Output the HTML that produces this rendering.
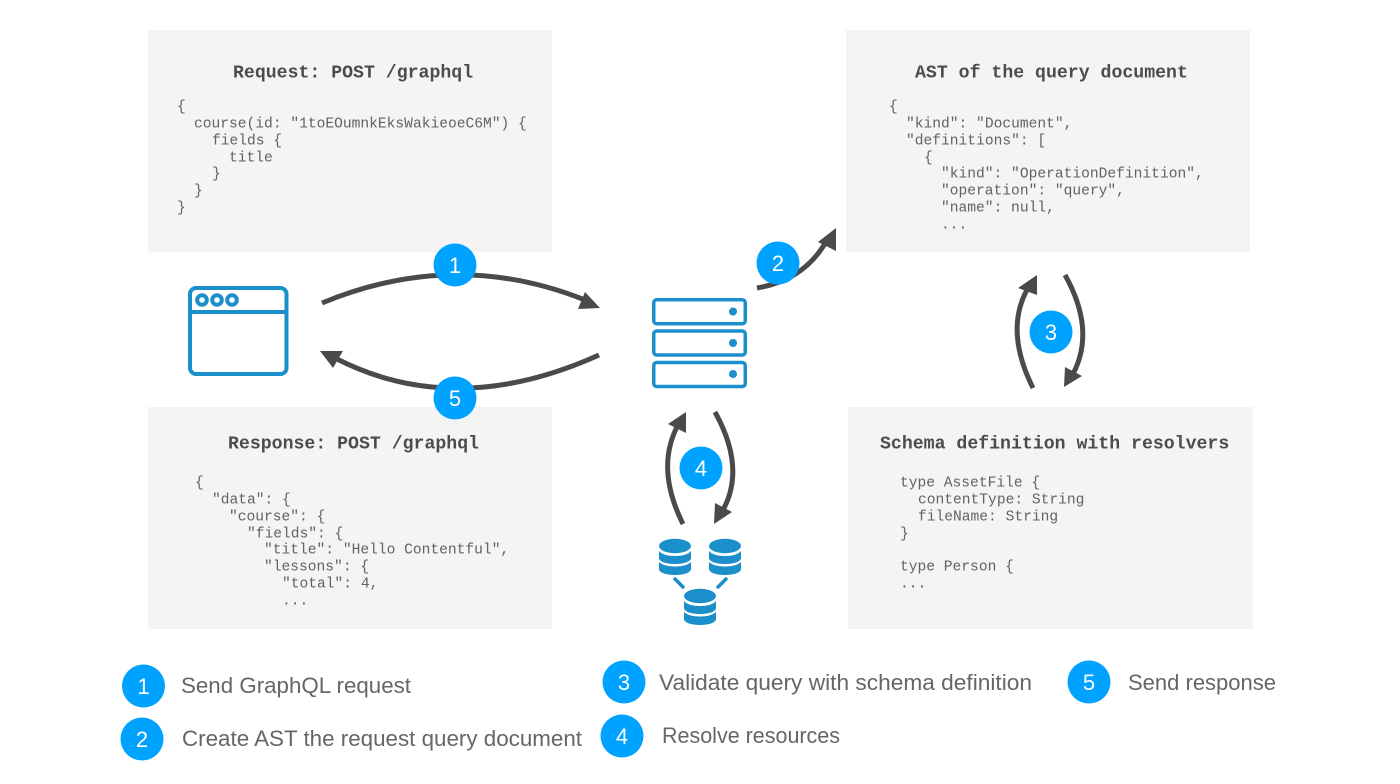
<!DOCTYPE html>
<html>
<head>
<meta charset="utf-8">
<style>
html,body{margin:0;padding:0;background:#fff;width:1400px;height:784px;overflow:hidden}
svg{display:block}
.c{font-family:"Liberation Mono",monospace;font-size:14.6px;fill:#626262}
.t{font-family:"Liberation Mono",monospace;font-size:18.2px;font-weight:bold;fill:#4c4c4c}
.l{font-family:"Liberation Sans",sans-serif;font-size:22px;fill:#666}
.n{font-family:"Liberation Sans",sans-serif;font-size:22px;fill:#fff;text-anchor:middle}
.a{fill:none;stroke:#4a4a4a;stroke-width:5}
.h{fill:#4a4a4a}
.b{fill:#00a2ff}
.i{fill:none;stroke:#1b8fca;stroke-width:3.5}
.w{fill:none;stroke:#1b8fca;stroke-width:4}
.d{fill:#1b8fca}
</style>
</head>
<body>
<svg width="1400" height="784" viewBox="0 0 1400 784" xmlns="http://www.w3.org/2000/svg">
<rect width="1400" height="784" fill="#fff"/>
<rect x="148" y="30" width="404" height="222" fill="#f4f4f4"/>
<rect x="846" y="30" width="404" height="222" fill="#f4f4f4"/>
<rect x="148" y="407" width="404" height="222" fill="#f4f4f4"/>
<rect x="848" y="407" width="405" height="222" fill="#f4f4f4"/>

<g transform="translate(0,-0.7)">
<text class="t" x="233" y="78">Request: POST /graphql</text>
<text class="c" x="177" y="111">{</text>
<text class="c" x="194" y="128">course(id: "1toEOumnkEksWakieoeC6M") {</text>
<text class="c" x="212" y="145">fields {</text>
<text class="c" x="229" y="162">title</text>
<text class="c" x="212" y="178">}</text>
<text class="c" x="194" y="195">}</text>
<text class="c" x="177" y="212">}</text>

<text class="t" x="915" y="78">AST of the query document</text>
<text class="c" x="889" y="111">{</text>
<text class="c" x="906" y="128">"kind": "Document",</text>
<text class="c" x="906" y="145">"definitions": [</text>
<text class="c" x="924" y="162">{</text>
<text class="c" x="941" y="178">"kind": "OperationDefinition",</text>
<text class="c" x="941" y="195">"operation": "query",</text>
<text class="c" x="941" y="212">"name": null,</text>
<text class="c" x="941" y="229">...</text>

<text class="t" x="228" y="449">Response: POST /graphql</text>
<text class="c" x="195" y="487">{</text>
<text class="c" x="212" y="504">"data": {</text>
<text class="c" x="229" y="521">"course": {</text>
<text class="c" x="247" y="538">"fields": {</text>
<text class="c" x="264" y="554">"title": "Hello Contentful",</text>
<text class="c" x="264" y="571">"lessons": {</text>
<text class="c" x="282" y="588">"total": 4,</text>
<text class="c" x="282" y="605">...</text>

<text class="t" x="880" y="449">Schema definition with resolvers</text>
<text class="c" x="900" y="487">type AssetFile {</text>
<text class="c" x="918" y="504">contentType: String</text>
<text class="c" x="918" y="521">fileName: String</text>
<text class="c" x="900" y="538">}</text>
<text class="c" x="900" y="571">type Person {</text>
<text class="c" x="900" y="588">...</text>
</g>

<!-- browser -->
<rect class="w" x="190" y="288" width="96.5" height="86" rx="6"/>
<line class="w" x1="190" y1="312" x2="286" y2="312"/>
<circle class="w" cx="202" cy="300" r="4.8"/>
<circle class="w" cx="217" cy="300" r="4.8"/>
<circle class="w" cx="232" cy="300" r="4.8"/>

<!-- server -->
<rect class="i" x="653.75" y="299.75" width="91.5" height="24" rx="3"/>
<rect class="i" x="653.75" y="331" width="91.5" height="24" rx="3"/>
<rect class="i" x="653.75" y="362.5" width="91.5" height="24" rx="3"/>
<circle class="d" cx="733" cy="311.5" r="4"/>
<circle class="d" cx="733" cy="343" r="4"/>
<circle class="d" cx="733" cy="374" r="4"/>

<!-- databases -->
<g>
<ellipse class="d" cx="675" cy="546" rx="16" ry="7.2"/>
<path class="d" d="M659 551c3 3.500 9 5 16 5s13-1.500 16-5v7c0 3.500-7 6-16 6s-16-2.500-16-6z"/>
<path class="d" d="M659 562c3 3 9 4.500 16 4.500s13-1.500 16-4.500v7c0 3.500-7 6-16 6s-16-2.500-16-6z"/>
</g>
<g transform="translate(50,0)">
<ellipse class="d" cx="675" cy="546" rx="16" ry="7.2"/>
<path class="d" d="M659 551c3 3.500 9 5 16 5s13-1.500 16-5v7c0 3.500-7 6-16 6s-16-2.500-16-6z"/>
<path class="d" d="M659 562c3 3 9 4.500 16 4.500s13-1.500 16-4.500v7c0 3.500-7 6-16 6s-16-2.500-16-6z"/>
</g>
<g transform="translate(25,50)">
<ellipse class="d" cx="675" cy="546" rx="16" ry="7.2"/>
<path class="d" d="M659 551c3 3.500 9 5 16 5s13-1.500 16-5v7c0 3.500-7 6-16 6s-16-2.500-16-6z"/>
<path class="d" d="M659 562c3 3 9 4.500 16 4.500s13-1.500 16-4.500v7c0 3.500-7 6-16 6s-16-2.500-16-6z"/>
</g>
<line x1="675" y1="579" x2="683" y2="587" stroke="#1b8fca" stroke-width="3.5" stroke-linecap="round"/>
<line x1="726" y1="579" x2="718" y2="587" stroke="#1b8fca" stroke-width="3.5" stroke-linecap="round"/>

<!-- arrows -->
<path class="a" d="M322 303Q455 248 585 300"/>
<polygon class="h" points="600,308 585,292 578,309"/>
<path class="a" d="M599 355Q455 420 335 358"/>
<polygon class="h" points="320,351 343,351 333,368"/>
<path class="a" d="M757 288Q805 280 827 240"/>
<polygon class="h" points="836,228 818,242 836,251"/>
<path class="a" d="M683 524Q655 468 678 425"/>
<polygon class="h" points="686,412 668,424 686,433"/>
<path class="a" d="M715 412Q746 468 723 510"/>
<polygon class="h" points="714,524 732,512 715,503"/>
<path class="a" d="M1033 388Q1004 330 1028 288"/>
<polygon class="h" points="1037,275 1018,288 1037,295"/>
<path class="a" d="M1065 275Q1096 330 1073 374"/>
<polygon class="h" points="1064,387 1082,376 1065,367"/>

<!-- badges -->
<circle class="b" cx="455" cy="265" r="21.5"/><text class="n" x="455" y="273">1</text>
<circle class="b" cx="455" cy="398" r="21.5"/><text class="n" x="455" y="406">5</text>
<circle class="b" cx="778" cy="263" r="21.5"/><text class="n" x="778" y="271">2</text>
<circle class="b" cx="1051" cy="332" r="21.5"/><text class="n" x="1051" y="340">3</text>
<circle class="b" cx="701" cy="468" r="21.5"/><text class="n" x="701" y="476">4</text>

<circle class="b" cx="143.500" cy="686" r="21.5"/><text class="n" x="143.500" y="694">1</text>
<circle class="b" cx="142" cy="739" r="21.5"/><text class="n" x="142" y="747">2</text>
<circle class="b" cx="624" cy="682" r="21.5"/><text class="n" x="624" y="690">3</text>
<circle class="b" cx="622" cy="736" r="21.5"/><text class="n" x="622" y="744">4</text>
<circle class="b" cx="1089" cy="682" r="21.5"/><text class="n" x="1089" y="690">5</text>

<text class="l" x="181" y="693" textLength="230" lengthAdjust="spacingAndGlyphs">Send GraphQL request</text>
<text class="l" x="182" y="746" textLength="400" lengthAdjust="spacingAndGlyphs">Create AST the request query document</text>
<text class="l" x="659" y="690" textLength="373" lengthAdjust="spacingAndGlyphs">Validate query with schema definition</text>
<text class="l" x="662" y="743" textLength="178" lengthAdjust="spacingAndGlyphs">Resolve resources</text>
<text class="l" x="1128" y="690" textLength="148" lengthAdjust="spacingAndGlyphs">Send response</text>
</svg>
</body>
</html>
